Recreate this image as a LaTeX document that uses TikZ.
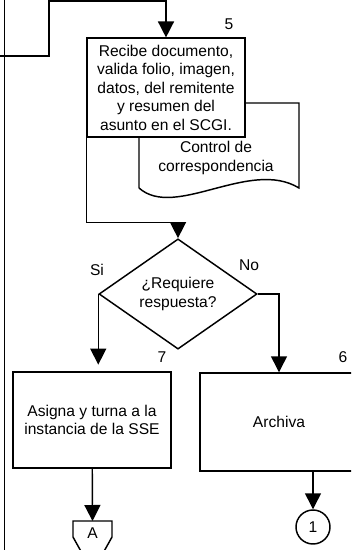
\documentclass[tikz,border=0pt]{standalone}
\usepackage{fontspec}
\setmainfont{Liberation Sans}
\usetikzlibrary{shapes.geometric,arrows.meta}

\begin{document}
\begin{tikzpicture}[x=0.75pt,y=-0.75pt,
    line width=1.1pt,
    every node/.style={font=\fontsize{11.7}{13.9}\selectfont},
    proc/.style={draw, fill=white, minimum width=118.5pt, minimum height=74pt, align=center, inner sep=1pt},
    decis/.style={draw, fill=white, diamond, minimum width=118.5pt, minimum height=73.5pt, inner sep=0pt, align=center},
    conn/.style={draw, circle, minimum size=25.5pt, inner sep=0pt},
    flow/.style={-{Triangle[length=12pt,width=12pt]}}]
      \clip (0,0) rectangle (351,550);

      % lane border and entry
      \coordinate (laneT) at (4.5,0);
      \coordinate (laneB) at (4.5,550);
      \coordinate (inL) at (0,56);
      \draw (laneT) -- (laneB);

      % documento
      \draw (139,188) -- (139,103) -- (299,103) -- (299,188)
            .. controls (250,158) and (175,220) .. (139,188);
      \node (doc) at (216,158) [align=center] {Control de\\correspondencia};

      \node (5) at (166,87.5) [proc] {Recibe documento,\\valida folio, imagen,\\datos, del remitente\\y resumen del\\asunto en el SCGI.};
      \node (dec) at (178,294) [decis] {¿Requiere\\respuesta?};
      \node (7) at (92,420) [proc, minimum height=72pt] {Asigna y turna a la\\instancia de la SSE};
      \node (6) at (279,422) [proc, minimum height=73.5pt] {Archiva};
      \node (c1) at (313,527) [conn] {1};
      \node (offA) at (92.5,533) {A};
      \coordinate (offAtop) at (92.5,521);

      \draw (73,521) -- (112,521) -- (112,537) -- (92.5,572) -- (73,537) -- cycle;

      \node (n5) at (229,24) {5};
      \node (n7) at (162,357) {7};
      \node (n6) at (343,357) {6};
      \node (si) at (97,270) {Si};
      \node (no) at (249,265) {No};

      \draw[flow]
      (inL) -| (49,1) -| (5);
      \draw[flow]
      (5.south west) -- ++(0,85) -| (dec);
      \draw[flow, shorten >=5pt]
      (dec.west) -- (dec.west |- 7.north);
      \draw[flow]
      (dec.east) -| (6);
      \draw[flow]
      (7) -- (offAtop);
      \draw[flow]
      (c1 |- 6.south) -- (c1);
    \end{tikzpicture}
\end{document}
